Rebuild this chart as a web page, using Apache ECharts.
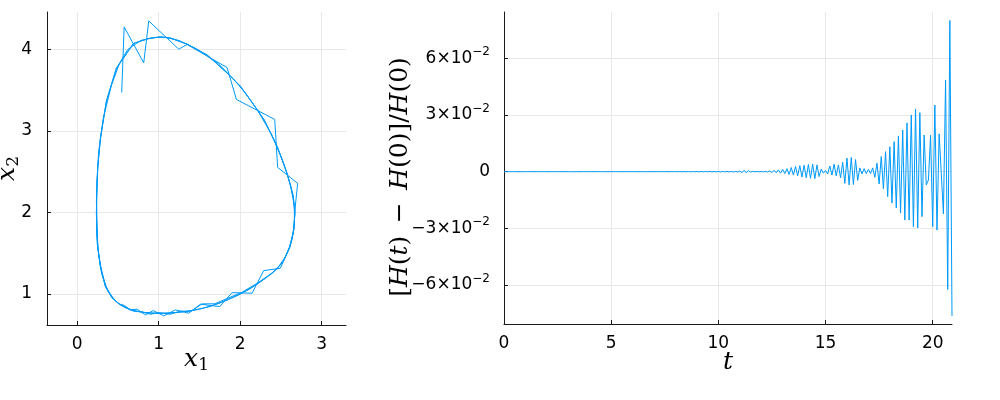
<!DOCTYPE html>
<html>
<head>
<meta charset="utf-8">
<script src="https://cdn.jsdelivr.net/npm/echarts@6/dist/echarts.min.js"></script>
<style>
html,body{margin:0;padding:0;background:#fff;}
#chart{width:1000px;height:400px;}
</style>
</head>
<body>
<div id="chart"></div>
<script>
// ---------- Left panel: phase portrait (x1, x2), passes in time order ----------
const pass1 = [
  [0.237,2.153],[0.240,1.835],[0.249,1.602],[0.286,1.345],[0.347,1.099],[0.427,0.952],
  [0.531,0.866],[0.654,0.805],[0.814,0.774],[1.022,0.762],[1.231,0.774],[1.427,0.799],
  [1.636,0.848],[1.844,0.928],[2.016,1.007],[2.212,1.124],[2.384,1.247],[2.519,1.381],
  [2.605,1.565],[2.654,1.749],[2.672,1.982],[2.654,2.190],[2.580,2.472],[2.457,2.803],
  [2.298,3.134],[2.126,3.379],[2.004,3.550],[1.844,3.710],[1.598,3.930],[1.353,4.065],
  [1.145,4.138],[1.022,4.154],[0.875,4.135],[0.691,4.074],[0.552,3.869],[0.482,3.771],
  [0.359,3.366],[0.286,2.913],[0.253,2.558]
];
const pass2 = [
  [0.236,2.000],[0.243,1.720],[0.265,1.470],[0.310,1.220],[0.385,1.020],[0.480,0.905],
  [0.590,0.832],[0.730,0.786],[0.920,0.764],[1.130,0.766],[1.330,0.785],[1.530,0.821],
  [1.740,0.885],[1.930,0.965],[2.120,1.062],[2.300,1.185],[2.455,1.310],[2.565,1.470],
  [2.635,1.655],[2.668,1.870],[2.665,2.080],[2.620,2.330],[2.530,2.620],[2.385,2.960],
  [2.215,3.255],[2.070,3.460],[1.930,3.625],[1.730,3.830],[1.470,4.005],[1.250,4.110],
  [1.090,4.150],[0.950,4.148],[0.780,4.110],[0.620,4.000],[0.520,3.830],[0.420,3.560],
  [0.320,3.150],[0.265,2.750],[0.240,2.350]
];
const pass3 = [
  [0.238,2.200],[0.241,1.900],[0.255,1.560],[0.290,1.300],[0.350,1.080],[0.430,0.955],
  [0.520,0.875],[0.600,0.838],[0.690,0.790],[0.780,0.785],[0.900,0.752],[1.000,0.772],
  [1.140,0.752],[1.270,0.790],[1.400,0.790],[1.534,0.879],[1.690,0.880],[1.820,0.936],
  [2.020,1.020],[2.209,1.132],[2.400,1.260],[2.530,1.400],[2.615,1.580],[2.660,1.800],
  [2.672,2.020],[2.650,2.220],[2.580,2.470],[2.460,2.800],[2.300,3.130],[2.130,3.375],
  [2.000,3.550],[1.840,3.710],[1.600,3.930],[1.350,4.065],[1.150,4.140],[1.020,4.155],
  [0.880,4.135],[0.691,4.074],[0.482,3.771],[0.359,3.366],[0.286,2.913],[0.253,2.558]
];
const pass4 = [
  [0.237,2.153],[0.240,1.835],[0.249,1.602],[0.286,1.345],[0.347,1.099],[0.429,0.965],
  [0.510,0.879],[0.572,0.863],[0.654,0.805],[0.736,0.814],[0.838,0.744],[0.933,0.797],
  [1.063,0.732],[1.206,0.805],[1.369,0.765],[1.513,0.875],[1.750,0.846],[1.902,1.017],
  [2.147,1.010],[2.290,1.287],[2.494,1.316],[2.604,1.565],[2.660,1.786],[2.679,2.092],
  [2.707,2.358],[2.461,2.554],[2.425,3.142],[1.955,3.387],[1.840,3.779],[1.350,4.061],
  [1.247,4.004],[0.879,4.350],[0.817,3.836],[0.577,4.277],[0.547,3.473]
];
const x1Ticks = [0, 1, 2, 3];
const x2Ticks = [1, 2, 3, 4];

// ---------- Right panel: relative energy error, samples every dt from t = 0 ----------
const dt = 0.1;
const relErr = [
  0,-1e-5,1e-5,-1e-5,1e-5,-1e-5,1e-5,-1e-5,1e-5,-1e-5,
  1e-5,-1e-5,1e-5,-1e-5,1e-5,-1e-5,1e-5,-1e-5,1e-5,-1e-5,
  1e-5,-2e-5,1e-5,-1e-5,2e-5,-1e-5,1e-5,-2e-5,2e-5,-1e-5,
  2e-5,-2e-5,1e-5,-2e-5,2e-5,-2e-5,2e-5,-1e-5,2e-5,-2e-5,
  2e-5,-2e-5,2e-5,-2e-5,3e-5,-2e-5,2e-5,-3e-5,2e-5,-2e-5,
  3e-5,-3e-5,2e-5,-3e-5,3e-5,-3e-5,3e-5,-2e-5,3e-5,-3e-5,
  3e-5,-4e-5,3e-5,-3e-5,4e-5,-4e-5,3e-5,-4e-5,4e-5,-3e-5,
  4e-5,-4e-5,5e-5,-4e-5,4e-5,-5e-5,5e-5,-4e-5,5e-5,-5e-5,
  6e-5,-5e-5,6e-5,-6e-5,5e-5,-7e-5,6e-5,-7e-5,7e-5,-6e-5,
  8e-5,-9e-5,1e-4,-9e-5,1.1e-4,-1e-4,1.2e-4,-1.3e-4,1.2e-4,-1.4e-4,
  1.5e-4,-1.4e-4,1.6e-4,-1.5e-4,1.8e-4,-1.6e-4,1.7e-4,-1.9e-4,1.8e-4,-2e-4,
  3e-4,-5e-4,7e-4,-6e-4,6e-4,-3e-4,2e-4,-1e-4,1e-4,-1e-4,
  1e-4,-1e-4,2e-4,-2e-4,4e-4,-5e-4,7e-4,-6e-4,9e-4,-8e-4,
  0.0012,-0.0010,0.0016,-0.0015,0.0022,-0.0018,0.0028,-0.0022,0.0032,-0.0028,
  0.0034,-0.0032,0.0038,-0.0035,0.0040,-0.0037,0.0036,-0.0026,0.0014,-0.0008,
  0.0006,-0.0012,0.0030,-0.0018,0.0040,-0.0022,0.0036,-0.0032,0.0050,-0.0062,
  0.0072,-0.0070,0.0075,-0.0068,0.0064,-0.0046,0.0020,-0.0012,0.0016,-0.0010,
  0.0012,-0.0010,0.0020,-0.0030,0.0045,-0.0065,0.0080,-0.0090,0.0106,-0.0132,
  0.0132,-0.0166,0.0159,-0.0192,0.0189,-0.0219,0.0221,-0.0256,0.0258,-0.0256,
  0.0300,-0.0291,0.0332,-0.0298,0.0312,-0.0238,0.0194,-0.0070,-0.0044,0.0194,
  -0.0291,0.0353,-0.0309,0.0200,-0.0010,-0.0224,0.0485,-0.0623,0.0800,-0.0764
];
const tTicks = [0, 5, 10, 15, 20];
const errTicks = [-0.06, -0.03, 0, 0.03, 0.06];
const errTickMant = ['\u22126\u00d710', '\u22123\u00d710', '0', '3\u00d710', '6\u00d710'];
const errTickExp = ['\u22122', '\u22122', '', '\u22122', '\u22122'];

// ---------- build ----------
const phaseData = [].concat(pass1, pass2, pass3, pass4);
const errData = relErr.map((v, i) => [+(i * dt).toFixed(1), v]);

const LINE = '#009AFA';
const AX = '#1a1a1a';
const GRIDC = '#e8e8e8';
const tickFont = {fontFamily: 'DejaVu Sans', fontSize: 17, color: '#000'};
const serifI = {fontFamily: 'DejaVu Serif', fontStyle: 'italic', fontSize: 25, color: '#000'};
const serifR = {fontFamily: 'DejaVu Serif', fontSize: 25, color: '#000'};
const subS = {fontFamily: 'DejaVu Serif', fontSize: 17, color: '#000', padding: [12, 0, 0, 0]};

function baseAxis(ticks) {
  return {
    type: 'value',
    nameMoveOverlap: false,
    axisLine: {show: true, onZero: false, lineStyle: {color: AX, width: 1}},
    axisTick: {show: true, inside: true, length: 4, customValues: ticks, lineStyle: {color: AX}},
    splitLine: {show: true, lineStyle: {color: GRIDC, width: 1}},
    axisLabel: Object.assign({customValues: ticks, margin: 11}, tickFont)
  };
}

const chart = echarts.init(document.getElementById('chart'), null, {renderer: 'canvas'});
const xL = Object.assign(baseAxis(x1Ticks), {
  gridIndex: 0, min: -0.37, max: 3.30,
  name: '{i|x}{s|1}', nameLocation: 'middle', nameGap: 20,
  nameTextStyle: {rich: {i: serifI, s: subS}}
});
const yL = Object.assign(baseAxis(x2Ticks), {
  gridIndex: 0, min: 0.62, max: 4.46,
  name: '{i|x}{s|2}', nameLocation: 'middle', nameRotate: 90, nameGap: 25,
  nameTextStyle: {rich: {i: serifI, s: subS}}
});
yL.axisLabel.margin = 15;
const xR = Object.assign(baseAxis(tTicks), {
  gridIndex: 1, min: 0, max: 20.9,
  name: '{i|t}', nameLocation: 'middle', nameGap: 26,
  nameTextStyle: {rich: {i: serifI}}
});
const yR = baseAxis(errTicks);
yR.axisLabel = {
  customValues: errTicks, margin: 14,
  formatter: function (v) {
    const k = errTicks.findIndex(x => Math.abs(x - v) < 1e-9);
    if (k < 0) return '';
    if (!errTickExp[k]) return '{m|' + errTickMant[k] + '}';
    return '{m|' + errTickMant[k] + '}{e|' + errTickExp[k] + '}';
  },
  rich: {
    m: {fontFamily: 'DejaVu Sans', fontSize: 17, color: '#000'},
    e: {fontFamily: 'DejaVu Sans', fontSize: 12, color: '#000', padding: [0, 0, 13, 0]}
  }
};
Object.assign(yR, {
  gridIndex: 1, min: -0.0806, max: 0.0845,
  name: '{r|[}{i|H}{r|(}{i|t}{r|)\u2002\u2212\u2002}{i|H}{r|(0)]/}{i|H}{r|(0)}',
  nameLocation: 'middle', nameRotate: 90, nameGap: 91,
  nameTextStyle: {padding: [0, 18, 0, 0], rich: {i: serifI, r: serifR}}
});

chart.setOption({
  animation: false,
  backgroundColor: '#fff',
  grid: [
    {left: 47, top: 12, width: 299, height: 313, outerBoundsMode: 'none', containLabel: false},
    {left: 504, top: 12, width: 448, height: 312, outerBoundsMode: 'none', containLabel: false}
  ],
  xAxis: [xL, xR],
  yAxis: [yL, yR],
  series: [
    {type: 'line', xAxisIndex: 0, yAxisIndex: 0, data: phaseData, showSymbol: false, symbol: 'none',
     lineStyle: {color: LINE, width: 1}, silent: true},
    {type: 'line', xAxisIndex: 1, yAxisIndex: 1, data: errData, showSymbol: false, symbol: 'none',
     lineStyle: {color: LINE, width: 1}, silent: true}
  ]
});
</script>
</body>
</html>
